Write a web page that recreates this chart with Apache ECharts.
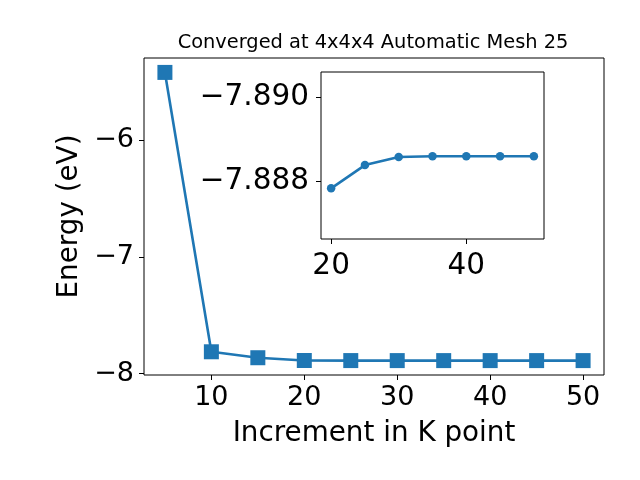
<!DOCTYPE html>
<html>
<head>
<meta charset="utf-8">
<script src="https://cdn.jsdelivr.net/npm/echarts@6/dist/echarts.min.js"></script>
<style>
html,body{margin:0;padding:0;background:#fff;}
#chart{width:640px;height:480px;}
</style>
</head>
<body>
<div id="chart"></div>
<script>
// Data
const kPoints = [5, 10, 15, 20, 25, 30, 35, 40, 45, 50];
const energy = [-5.419, -7.813, -7.864, -7.88784, -7.88839, -7.88858, -7.8886, -7.8886, -7.8886, -7.8886];
const insetK = [20, 25, 30, 35, 40, 45, 50];
const insetEnergy = [-7.88784, -7.88839, -7.88858, -7.8886, -7.8886, -7.8886, -7.8886];
const mainXTicks = [10, 20, 30, 40, 50];
const mainYTicks = [-8, -7, -6];
const insetXTicks = [20, 40];
const insetYTicks = [-7.890, -7.888];
const titleText = 'Converged at 4x4x4 Automatic Mesh 25';
const xLabel = 'Increment in K point';
const yLabel = 'Energy (eV)';

const FONT = 'DejaVu Sans';
const BLUE = '#1f77b4';
const fmtMinus = (s) => s.replace('-', '\u2212');

const chart = echarts.init(document.getElementById('chart'), null, {renderer: 'canvas'});

const tickStyle = {show: true, inside: false, length: 5, lineStyle: {color: '#000', width: 1}};

const option = {
  backgroundColor: '#fff',
  animation: false,
  title: {
    text: titleText,
    left: 368,
    top: 28,
    textAlign: 'center',
    textStyle: {fontFamily: FONT, fontSize: 19.4, fontWeight: 'normal', color: '#000'}
  },
  grid: [
    {left: 144, top: 58, width: 460, height: 317, show: true, borderColor: '#000', borderWidth: 1, backgroundColor: 'transparent', containLabel: false},
    {left: 321, top: 72, width: 223, height: 167, show: true, borderColor: '#000', borderWidth: 1, backgroundColor: '#fff', containLabel: false}
  ],
  xAxis: [
    {
      gridIndex: 0, type: 'value', min: 2.75, max: 52.25,
      axisLine: {show: false},
      axisTick: Object.assign({}, tickStyle, {customValues: mainXTicks}),
      axisLabel: {customValues: mainXTicks, fontFamily: FONT, fontSize: 27, color: '#000', margin: 9},
      splitLine: {show: false},
      name: xLabel, nameLocation: 'middle', nameGap: 45,
      nameTextStyle: {fontFamily: FONT, fontSize: 27.8, color: '#000'}
    },
    {
      gridIndex: 1, type: 'value', min: 18.5, max: 51.5,
      axisLine: {show: false},
      axisTick: Object.assign({}, tickStyle, {customValues: insetXTicks}),
      axisLabel: {customValues: insetXTicks, fontFamily: FONT, fontSize: 29.5, color: '#000', margin: 12},
      splitLine: {show: false}
    }
  ],
  yAxis: [
    {
      gridIndex: 0, type: 'value', min: -8.012, max: -5.2955,
      axisLine: {show: false},
      axisTick: Object.assign({}, tickStyle, {customValues: mainYTicks}),
      axisLabel: {customValues: mainYTicks, fontFamily: FONT, fontSize: 27, color: '#000', margin: 10,
        formatter: (v) => fmtMinus(String(Math.round(v)))},
      splitLine: {show: false},
      name: yLabel, nameLocation: 'middle', nameGap: 49, nameRotate: 90,
      nameTextStyle: {fontFamily: FONT, fontSize: 27.8, color: '#000'}
    },
    {
      gridIndex: 1, type: 'value', min: -7.890592, max: -7.886642, inverse: true,
      axisLine: {show: false},
      axisTick: Object.assign({}, tickStyle, {customValues: insetYTicks}),
      axisLabel: {customValues: insetYTicks, fontFamily: FONT, fontSize: 29.5, color: '#000', margin: 12,
        formatter: (v) => fmtMinus(v.toFixed(3))},
      splitLine: {show: false}
    }
  ],
  series: [
    {
      type: 'line', xAxisIndex: 0, yAxisIndex: 0,
      data: kPoints.map((k, i) => [k, energy[i]]),
      symbol: 'rect', symbolSize: 15,
      lineStyle: {color: BLUE, width: 2.6},
      itemStyle: {color: BLUE},
      z: 2
    },
    {
      type: 'line', xAxisIndex: 1, yAxisIndex: 1,
      data: insetK.map((k, i) => [k, insetEnergy[i]]),
      symbol: 'circle', symbolSize: 8.5,
      lineStyle: {color: BLUE, width: 2.6},
      itemStyle: {color: BLUE},
      z: 5
    }
  ]
};
chart.setOption(option);
</script>
</body>
</html>
